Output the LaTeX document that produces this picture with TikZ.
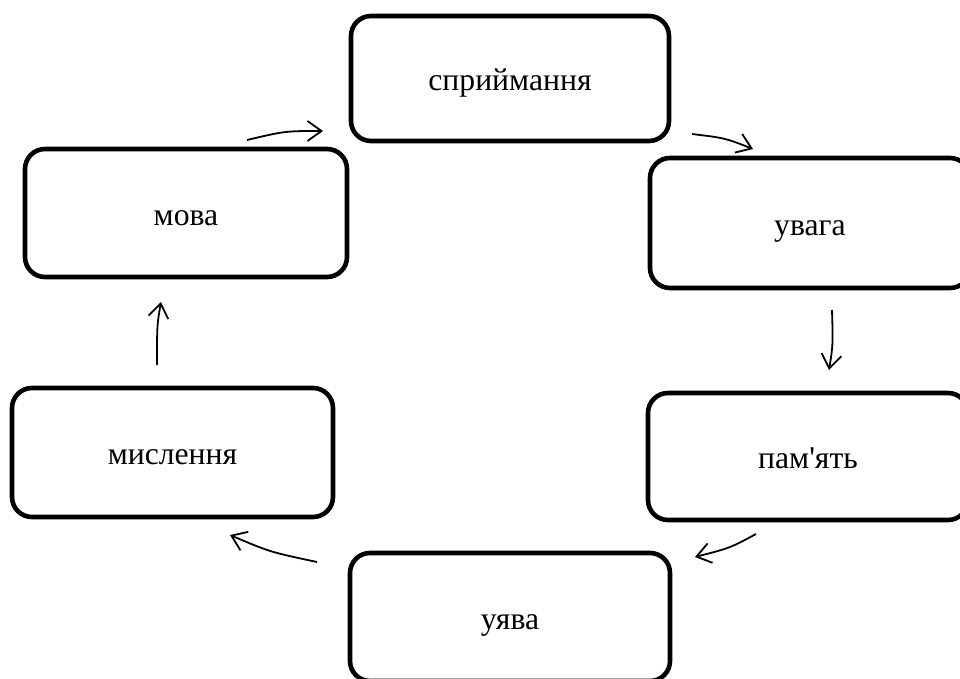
\documentclass[tikz,border=0pt]{standalone}
\usepackage{fontspec}
\setmainfont{Liberation Serif}[Ligatures=TeXOff]
\usetikzlibrary{arrows.meta}
\begin{document}
\begin{tikzpicture}[x=1pt,y=-1pt,
  box/.style={draw=black, line width=4.6pt, rounded corners=20pt, fill=white,
    minimum width=#1, minimum height=127pt, inner sep=0pt,
    text height=30pt, text depth=6pt,
    font=\fontsize{31.7}{38}\selectfont},
  box/.default=320pt,
  conn/.style={line width=1.8pt, -{Straight Barb[length=14pt,width=20pt,line width=1.8pt]}}
]
\useasboundingbox (0,0) rectangle (960,679);
\begin{scope}
\clip (0,0) rectangle (960,679);
\node[box=318pt, minimum height=125pt] (sp) at (510,78.5) {сприймання};
\node[box=322pt, minimum height=128pt] (mo) at (186,213) {мова};
\node[box=320pt, minimum height=130pt] (uv) at (810,223) {увага};
\node[box=320pt, minimum height=127pt] (pa) at (808,456.5) {пам'ять};
\node[box=321pt, minimum height=129pt] (mi) at (172.5,452.5) {мислення};
\node[box=320pt, minimum height=128pt] (ua) at (510,617) {уява};
\end{scope}
\coordinate (a1s) at (247,140); \coordinate (a1e) at (323,131);
\coordinate (a2s) at (692,134); \coordinate (a2e) at (753,149);
\coordinate (a3s) at (832,310); \coordinate (a3e) at (829,370);
\coordinate (a4s) at (756,534); \coordinate (a4e) at (695,557);
\coordinate (a5s) at (317,562); \coordinate (a5e) at (230,535);
\coordinate (a6s) at (157,365); \coordinate (a6e) at (161,302);
\draw[conn] (a1s) .. controls (285,131) .. (a1e);
\draw[conn] (a2s) .. controls (725,138) .. (a2e);
\draw[conn] (a3s) .. controls (833,345) .. (a3e);
\draw[conn] (a4s) .. controls (730,548) .. (a4e);
\draw[conn] (a5s) .. controls (270,552) .. (a5e);
\draw[conn] (a6s) .. controls (157,325) .. (a6e);
\end{tikzpicture}
\end{document}
